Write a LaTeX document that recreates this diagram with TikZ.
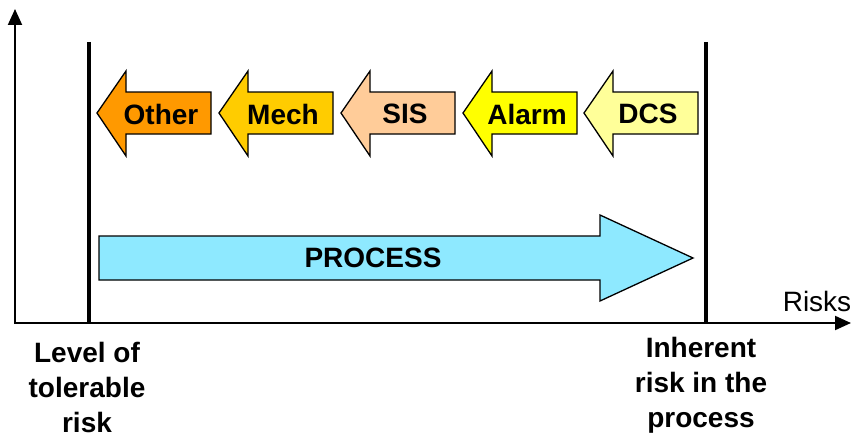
\documentclass[tikz,border=0pt]{standalone}
\usepackage{fontspec}
\setmainfont{Liberation Sans}
\usetikzlibrary{arrows.meta}
\definecolor{cOther}{HTML}{FF9900}
\definecolor{cMech}{HTML}{FFCC00}
\definecolor{cSIS}{HTML}{FFCC99}
\definecolor{cAlarm}{HTML}{FFFF00}
\definecolor{cDCS}{HTML}{FFFF99}
\definecolor{cProc}{HTML}{8EE9FF}
\begin{document}
\begin{tikzpicture}[x=1pt,y=-1pt,
  axis/.style={line width=2pt,-{Triangle[length=16pt,width=14pt]}},
  limit/.style={line width=4.5pt},
  shapebox/.style={draw=black,line width=1.3pt,line join=miter},
  lbl/.style={font=\bfseries\fontsize{28}{35}\selectfont,inner sep=0pt},
  bottomlbl/.style={font=\bfseries\fontsize{28}{35}\selectfont,inner sep=0pt,align=center,anchor=north},
  risklbl/.style={font=\fontsize{28}{35}\selectfont,inner sep=0pt,anchor=base}]
\useasboundingbox (0,0) rectangle (856,436);
% axes
\coordinate (O) at (15,323);
\coordinate (ytip) at (15,9);
\coordinate (xtip) at (851,323);
\draw[axis] (O) -- (ytip);
\draw[axis] ([xshift=-1pt]O) -- (xtip);
% limit lines
\coordinate (l1) at (89,42);
\coordinate (l1b) at (89,324);
\coordinate (l2) at (706,42);
\coordinate (l2b) at (706,324);
\draw[limit] (l1) -- (l1b);
\draw[limit] (l2) -- (l2b);
% left arrows
\foreach \t/\c/\txt/\nm in {97/cOther/Other/other,219/cMech/Mech/mech,341/cSIS/SIS/sis,463/cAlarm/Alarm/alarm,584/cDCS/DCS/dcs}{
  \draw[shapebox,fill=\c] (\t,113) -- (\t+29,71) -- (\t+29,92) -- (\t+114,92) -- (\t+114,134) -- (\t+29,134) -- (\t+29,156) -- cycle;
  \node[lbl] (\nm) at (\t+64,114) {\txt};
}
% process arrow
\draw[shapebox,fill=cProc] (99,236) -- (600,236) -- (600,215) -- (693,258) -- (600,301) -- (600,280) -- (99,280) -- cycle;
\node[lbl] (process) at (373,258) {PROCESS};
% labels
\node[risklbl] (risks) at (817,311) {Risks};
\node[bottomlbl] (tol) at (87,342) {Level of\\tolerable\\risk};
\node[bottomlbl] (inh) at (701,337) {Inherent\\risk in the\\process};
\end{tikzpicture}
\end{document}
